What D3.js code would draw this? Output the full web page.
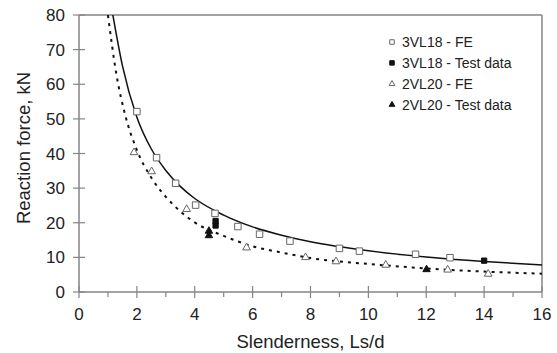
<!DOCTYPE html>
<head>
<meta charset="utf-8">
<title>Reaction force vs slenderness</title>
<script src="https://cdnjs.cloudflare.com/ajax/libs/d3/7.8.5/d3.min.js"></script>
<style>
body { margin: 0; background: #fff; }
text { font-family: "Liberation Sans", Arial, sans-serif; fill: #222; }
</style>
</head>
<body>
<script>

// 3VL18 - FE (open squares)
var fe3X = [2.0, 2.68, 3.34, 4.03, 4.70, 5.49, 6.24, 7.29, 9.0, 9.69, 11.63, 12.82];
var fe3Y = [52.1, 38.8, 31.4, 25.1, 22.7, 18.9, 16.7, 14.7, 12.6, 11.8, 10.9, 9.9];
// 3VL18 - Test data (filled squares)
var test3X = [4.72, 4.72, 14.0];
var test3Y = [20.5, 19.2, 9.05];
// 2VL20 - FE (open triangles)
var fe2X = [1.90, 2.51, 3.72, 5.79, 7.83, 8.88, 10.6, 12.74, 14.14];
var fe2Y = [40.3, 34.8, 23.9, 12.8, 10.0, 8.8, 7.8, 6.4, 5.2];
// 2VL20 - Test data (filled triangles)
var test2X = [4.49, 4.49, 12.01];
var test2Y = [17.6, 16.3, 6.5];

// trend curves
var fit3X = [1.17, 1.5, 2, 2.5, 3, 3.5, 4, 5, 6, 7, 8, 10, 12, 14, 16];
var fit3Y = [80, 65.4, 50.5, 41.3, 35.1, 30.5, 27.0, 22.2, 18.8, 16.4, 14.5, 11.9, 10.1, 8.8, 7.8];
var fit2X = [1.0, 1.3, 1.6, 2, 2.5, 3, 3.5, 4, 5, 6, 7, 8, 10, 12, 14, 16];
var fit2Y = [80, 62.5, 51, 41, 33, 27.5, 23.3, 20.1, 16.2, 13.2, 11.4, 9.8, 8.1, 6.8, 5.9, 5.3];

var legendLabels = ["3VL18 - FE", "3VL18 - Test data", "2VL20 - FE", "2VL20 - Test data"];

var width = 557, height = 353;
var pLeft = 79, pRight = 542, pTop = 15, pBottom = 292;
var axisColor = "#858585";

var svg = d3.select("body").append("svg")
  .attr("width", width)
  .attr("height", height);

var x = d3.scaleLinear().domain([0, 16]).range([pLeft, pRight]);
var y = d3.scaleLinear().domain([0, 80]).range([pBottom, pTop]);

function zip(xs, ys) { return xs.map(function(v, i) { return [v, ys[i]]; }); }

// frame on top and right
svg.append("line").attr("x1", pLeft).attr("x2", pRight).attr("y1", pTop).attr("y2", pTop)
  .attr("stroke", axisColor).attr("stroke-width", 1.5);
svg.append("line").attr("x1", pRight).attr("x2", pRight).attr("y1", pTop).attr("y2", pBottom)
  .attr("stroke", axisColor).attr("stroke-width", 1.5);

// x axis
var xAxis = svg.append("g").attr("transform", "translate(0," + pBottom + ")");
xAxis.append("line").attr("x1", pLeft).attr("x2", pRight).attr("stroke", axisColor).attr("stroke-width", 1.5);
xAxis.selectAll(".minor").data(d3.range(1, 16, 2)).enter().append("line")
  .attr("x1", function(d) { return x(d); }).attr("x2", function(d) { return x(d); })
  .attr("y1", 0).attr("y2", 5)
  .attr("stroke", axisColor).attr("stroke-width", 1.2);
xAxis.selectAll(".major").data(d3.range(0, 17, 2)).enter().append("line")
  .attr("x1", function(d) { return x(d); }).attr("x2", function(d) { return x(d); })
  .attr("y1", -6).attr("y2", 6)
  .attr("stroke", axisColor).attr("stroke-width", 1.2);
xAxis.selectAll("text").data(d3.range(0, 17, 2)).enter().append("text")
  .attr("x", function(d) { return x(d); })
  .attr("y", 28)
  .attr("text-anchor", "middle")
  .style("font-size", "17px")
  .text(function(d) { return d; });

// y axis
var yAxis = svg.append("g").attr("transform", "translate(" + pLeft + ",0)");
yAxis.append("line").attr("y1", pTop).attr("y2", pBottom).attr("stroke", axisColor).attr("stroke-width", 1.5);
yAxis.selectAll(".major").data(d3.range(0, 81, 10)).enter().append("line")
  .attr("y1", function(d) { return y(d); }).attr("y2", function(d) { return y(d); })
  .attr("x1", -6).attr("x2", 6)
  .attr("stroke", axisColor).attr("stroke-width", 1.2);
yAxis.selectAll("text").data(d3.range(0, 81, 10)).enter().append("text")
  .attr("x", -14)
  .attr("y", function(d) { return y(d); })
  .attr("dy", "0.36em")
  .attr("text-anchor", "end")
  .style("font-size", "17px")
  .text(function(d) { return d; });

// axis titles
svg.append("text")
  .attr("x", (pLeft + pRight) / 2)
  .attr("y", 348)
  .attr("text-anchor", "middle")
  .style("font-size", "18.5px")
  .text("Slenderness, Ls/d");
svg.append("text")
  .attr("transform", "translate(30,148) rotate(-90)")
  .attr("text-anchor", "middle")
  .style("font-size", "18.5px")
  .text("Reaction force, kN");

// curves
svg.append("clipPath").attr("id", "plot")
  .append("rect").attr("x", pLeft).attr("y", pTop).attr("width", pRight - pLeft).attr("height", pBottom - pTop);

var line = d3.line()
  .x(function(d) { return x(d[0]); })
  .y(function(d) { return y(d[1]); })
  .curve(d3.curveMonotoneX);

svg.append("path")
  .attr("clip-path", "url(#plot)")
  .attr("d", line(zip(fit2X, fit2Y)))
  .attr("fill", "none")
  .attr("stroke", "#111")
  .attr("stroke-width", 2)
  .attr("stroke-dasharray", "3,5");

svg.append("path")
  .attr("clip-path", "url(#plot)")
  .attr("d", line(zip(fit3X, fit3Y)))
  .attr("fill", "none")
  .attr("stroke", "#111")
  .attr("stroke-width", 1.5);

// markers
var square = d3.symbol().type(d3.symbolSquare);
var triangle = d3.symbol().type(d3.symbolTriangle);

function drawPoints(xs, ys, shape, size, fill, stroke) {
  svg.append("g").selectAll("path")
    .data(zip(xs, ys))
    .enter().append("path")
    .attr("transform", function(d) { return "translate(" + x(d[0]) + "," + y(d[1]) + ")"; })
    .attr("d", shape.size(size)())
    .attr("fill", fill)
    .attr("stroke", stroke)
    .attr("stroke-width", 1);
}

drawPoints(fe3X, fe3Y, square, 42, "#fff", "#666");
drawPoints(fe2X, fe2Y, triangle, 26, "#fff", "#666");
drawPoints(test3X, test3Y, square, 28, "#111", "#111");
drawPoints(test2X, test2Y, triangle, 24, "#111", "#111");

// legend
var legendShapes = [
  { shape: square, size: 20, fill: "#fff", stroke: "#666" },
  { shape: square, size: 20, fill: "#111", stroke: "#111" },
  { shape: triangle, size: 14, fill: "#fff", stroke: "#666" },
  { shape: triangle, size: 14, fill: "#111", stroke: "#111" }
];
var legend = svg.append("g").selectAll("g")
  .data(legendLabels)
  .enter().append("g")
  .attr("transform", function(d, i) { return "translate(392," + (42 + i * 20.9) + ")"; });
legend.append("path")
  .attr("d", function(d, i) { return legendShapes[i].shape.size(legendShapes[i].size)(); })
  .attr("fill", function(d, i) { return legendShapes[i].fill; })
  .attr("stroke", function(d, i) { return legendShapes[i].stroke; })
  .attr("stroke-width", 1);
legend.append("text")
  .attr("x", 10)
  .attr("dy", "0.36em")
  .style("font-size", "14px")
  .text(function(d) { return d; });

</script>
</body>
